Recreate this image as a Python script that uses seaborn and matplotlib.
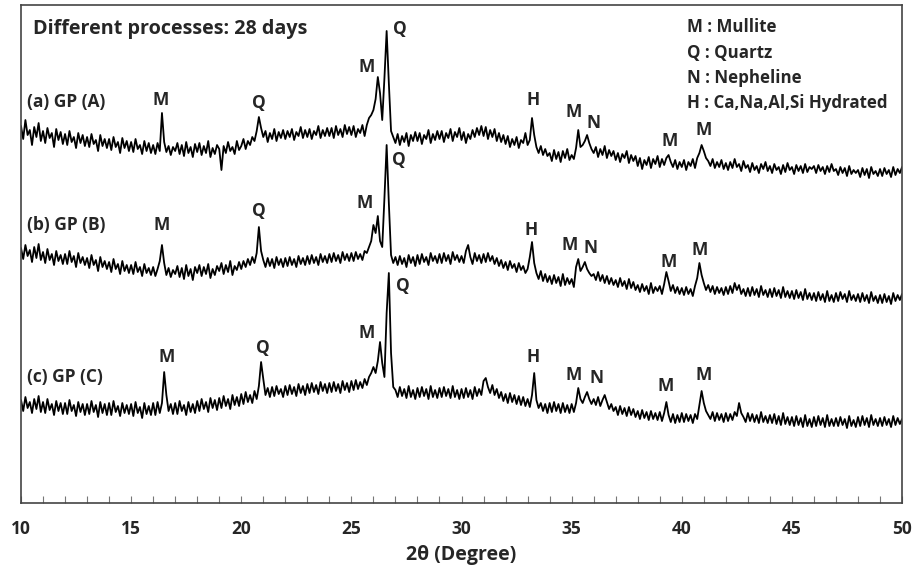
import numpy as np
import matplotlib
matplotlib.use("Agg")
import matplotlib.pyplot as plt
import seaborn as sns

# 2-theta grid (degrees), 0.1 degree step from 10 to 50
two_theta = np.round(np.arange(100, 501) / 10.0, 1)

# Stacked intensities (a.u.), one row per degree
gp_a = [
    377,364,383,368,373,358,376,366,380,362,
    372,360,375,365,370,356,374,363,371,359,
    369,358,372,361,366,355,370,360,368,357,
    366,356,369,359,363,352,368,357,364,355,
    364,353,366,356,361,350,365,355,362,352,
    361,351,364,354,358,349,362,352,360,350,
    358,349,360,352,390,361,351,357,348,356,
    352,360,349,358,347,361,350,356,346,359,
    351,360,348,357,350,362,346,355,349,358,
    354,333,357,350,361,352,356,349,362,353,
    357,364,354,362,358,366,362,372,386,375,
    366,372,361,370,364,374,362,371,365,373,
    364,372,366,374,363,371,367,376,365,373,
    366,374,364,372,368,377,365,373,367,375,
    367,375,365,377,368,374,366,378,369,376,
    368,377,366,374,370,378,367,378,385,388,
    393,404,426,410,383,425,472,420,372,366,
    360,369,358,367,361,370,357,368,362,371,
    362,370,359,368,364,373,360,369,363,372,
    364,372,361,370,365,374,362,371,366,375,
    363,371,360,369,364,373,366,375,368,377,
    367,376,364,373,366,374,362,370,361,368,
    359,367,356,364,358,366,355,363,360,370,
    358,363,385,368,356,350,357,348,354,347,
    350,342,353,344,351,341,352,345,354,343,
    348,344,355,373,356,358,362,368,360,354,
    350,356,346,354,348,357,345,353,347,352,
    343,350,341,349,345,352,340,348,342,347,
    337,345,334,343,338,346,335,344,339,347,
    336,344,338,345,348,341,336,343,334,341,
    336,343,333,341,337,344,335,345,350,358,
    352,345,342,337,344,335,341,336,343,334,
    340,333,341,335,344,336,339,332,342,335,
    338,331,340,333,337,330,339,334,341,332,
    337,330,339,333,336,329,338,331,340,333,
    336,329,338,332,337,330,339,331,336,334,
    337,330,338,332,336,329,337,331,339,332,
    334,328,336,330,335,327,337,329,333,330,
    333,326,335,328,334,325,336,329,332,327,
    334,327,335,329,333,326,336,328,334,330,
    336,
]

gp_b = [
    255,244,258,247,253,241,256,245,259,243,
    251,240,254,243,249,238,252,242,248,239,
    249,239,252,241,247,236,250,240,246,238,
    245,235,248,238,243,232,246,236,242,234,
    241,231,244,234,239,229,242,232,238,230,
    238,229,241,231,236,227,239,230,235,228,
    236,227,234,242,258,240,228,235,226,233,
    229,237,226,235,224,238,227,234,223,236,
    230,238,227,236,229,239,225,234,228,237,
    232,240,229,238,231,242,228,237,233,241,
    234,242,236,244,238,246,240,250,276,252,
    243,236,245,237,244,235,246,238,244,236,
    245,237,246,238,244,236,247,239,245,238,
    247,239,248,240,246,238,249,241,247,240,
    249,241,250,242,248,240,251,243,249,242,
    250,242,251,244,249,243,252,250,256,262,
    278,270,287,262,256,305,358,300,248,240,
    246,238,247,239,245,236,248,240,246,237,
    248,239,249,241,246,238,250,242,247,240,
    249,240,250,242,248,239,251,243,248,241,
    247,240,252,258,246,239,250,242,248,240,
    249,241,250,242,247,239,245,237,243,235,
    241,233,242,235,239,231,240,233,237,230,
    234,246,261,240,230,224,232,222,229,221,
    227,219,228,220,226,217,229,218,225,219,
    224,216,236,244,232,236,241,234,230,227,
    229,223,231,222,228,220,227,219,225,218,
    223,216,225,217,222,214,224,215,221,213,
    218,211,219,212,217,209,220,210,216,212,
    217,209,219,231,222,212,218,210,216,209,
    215,208,216,209,214,207,217,225,240,228,
    220,213,218,211,217,209,216,210,215,208,
    216,209,217,210,220,213,218,209,214,207,
    215,207,216,208,214,206,217,208,213,206,
    214,206,215,207,213,205,216,206,212,205,
    212,204,213,205,211,203,214,204,210,203,
    210,202,211,203,209,201,212,202,208,201,
    210,202,211,204,209,201,212,203,208,202,
    209,201,210,202,208,200,211,202,207,200,
    208,200,209,201,207,199,210,202,208,203,
    209,
]

gp_c = [
    103,92,106,95,101,90,104,94,107,91,
    101,90,104,93,99,88,102,92,100,89,
    100,89,103,92,98,87,101,91,99,88,
    99,89,102,91,98,86,101,90,99,88,
    100,88,102,91,97,87,100,90,98,89,
    99,87,101,90,96,85,100,89,97,88,
    100,88,101,90,100,131,108,92,99,89,
    100,89,102,92,98,88,101,91,99,90,
    102,92,104,94,101,91,105,95,103,93,
    105,95,107,97,104,94,108,98,106,97,
    109,99,111,101,108,100,112,104,117,141,
    124,108,115,106,116,107,117,109,114,106,
    117,108,118,109,116,107,119,110,117,108,
    119,110,120,111,118,109,121,112,119,110,
    120,111,121,112,119,110,122,113,120,111,
    122,113,123,114,121,115,124,118,126,130,
    136,130,142,161,140,126,190,230,150,116,
    113,106,116,107,114,105,117,106,113,104,
    115,106,116,107,114,104,117,106,113,105,
    115,106,116,107,114,105,117,106,113,104,
    114,105,115,106,113,104,116,107,114,108,
    122,125,116,110,118,108,114,105,111,102,
    109,100,110,101,108,99,107,98,106,97,
    104,96,108,130,103,95,100,92,99,90,
    100,91,101,92,99,90,100,91,98,90,
    99,91,100,115,104,100,106,111,104,99,
    104,98,106,97,103,108,101,94,99,92,
    96,88,97,89,95,87,96,88,94,86,
    92,84,93,85,91,83,92,84,90,83,
    91,82,90,101,88,81,89,80,88,81,
    90,81,89,82,88,80,89,84,98,112,
    100,92,88,84,91,82,90,83,89,81,
    90,82,89,83,91,87,100,90,86,81,
    90,82,89,81,88,80,91,81,87,80,
    88,80,89,79,87,78,90,79,86,78,
    86,77,87,78,85,76,88,77,84,76,
    86,77,87,78,85,76,88,77,84,77,
    85,77,86,78,84,75,87,77,83,76,
    86,77,87,78,85,76,88,78,84,77,
    85,77,86,78,84,76,87,78,85,79,
    84,
]

sample_labels = ["(a) GP (A)", "(b) GP (B)", "(c) GP (C)"]
sample_label_pos = [(10.27, 401), (10.27, 278), (10.27, 126)]

# phase labels: (letter, 2theta, intensity)
phase_marks = [
    ("M", 16.36, 403), ("Q", 20.81, 400), ("M", 25.67, 436), ("Q", 27.21, 474),
    ("H", 33.25, 403), ("M", 35.07, 391), ("N", 35.98, 380), ("M", 39.43, 362), ("M", 40.97, 373),
    ("M", 16.40, 278), ("Q", 20.81, 292), ("M", 25.62, 300), ("Q", 27.17, 343),
    ("H", 33.16, 273), ("M", 34.93, 258), ("N", 35.84, 255), ("M", 39.38, 241), ("M", 40.79, 253),
    ("M", 16.63, 146), ("Q", 20.99, 155), ("M", 25.71, 170), ("Q", 27.35, 217),
    ("H", 33.25, 146), ("M", 35.07, 128), ("N", 36.11, 125), ("M", 39.25, 117), ("M", 40.97, 128),
]

legend_lines = ["M : Mullite", "Q : Quartz", "N : Nepheline", "H : Ca,Na,Al,Si Hydrated"]
legend_y = [476, 450, 425, 400]
title_text = "Different processes: 28 days"
x_ticks = [10, 15, 20, 25, 30, 35, 40, 45, 50]

sns.set_theme(style="white")
FAM = ["Open Sans", "DejaVu Sans"]
plt.rcParams["font.family"] = FAM

fig = plt.figure(figsize=(9.17, 5.76), dpi=100)
ax = fig.add_axes([0.0229, 0.1267, 0.9608, 0.8646])

for series in (gp_a, gp_b, gp_c):
    sns.lineplot(x=two_theta, y=series, ax=ax, color="black", linewidth=1.3,
                 estimator=None, sort=False)

ax.set_xlim(10, 50)
ax.set_ylim(0, 498)
ax.set_yticks([])
ax.set_xticks(x_ticks)
ax.set_xticklabels([str(t) for t in x_ticks], fontsize=12.5, fontweight="bold")
ax.set_xticks(np.arange(10, 51, 1), minor=True)
ax.tick_params(axis="x", which="both", direction="in", length=5, width=0.8,
               color="#777777", pad=12, bottom=True)
for s in ax.spines.values():
    s.set_color("#444444")
    s.set_linewidth(1.2)

ax.set_xlabel("2θ (Degree)", fontsize=14, fontweight="bold", labelpad=5)

ax.text(10.54, 474, title_text, fontsize=14.2, fontweight="bold", va="center", ha="left")
for txt, (xx, yy) in zip(sample_labels, sample_label_pos):
    ax.text(xx, yy, txt, fontsize=12.5, fontweight="bold", va="center", ha="left")
for letter, xx, yy in phase_marks:
    ax.text(xx, yy, letter, fontsize=12.5, fontweight="bold", va="center", ha="center")
for txt, yy in zip(legend_lines, legend_y):
    ax.text(40.25, yy, txt, fontsize=12.2, fontweight="bold", va="center", ha="left")

fig.savefig("out.png", dpi=100)
